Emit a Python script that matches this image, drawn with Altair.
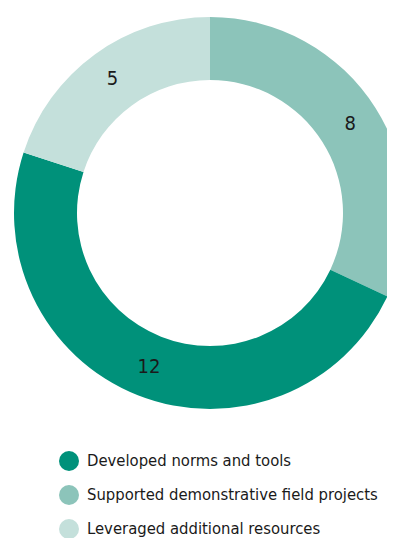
import altair as alt
import pandas as pd

categories = ["Supported demonstrative field projects", "Developed norms and tools", "Leveraged additional resources"]
values = [8, 12, 5]
legend_order = ["Developed norms and tools", "Supported demonstrative field projects", "Leveraged additional resources"]
colors = ["#00917a", "#8cc4ba", "#c4e0db"]

df = pd.DataFrame({"category": categories, "value": values, "order": [0, 1, 2]})

FONT = "DejaVu Sans Condensed"

base = alt.Chart(df).encode(
    theta=alt.Theta("value:Q", stack=True),
    order=alt.Order("order:Q"),
)

arc = base.mark_arc(outerRadius=196, innerRadius=133, x=202, y=205).encode(
    color=alt.Color(
        "category:N",
        scale=alt.Scale(domain=legend_order, range=colors),
        sort=legend_order,
        legend=alt.Legend(
            title=None,
            orient="none",
            legendX=51,
            legendY=443,
            symbolType="circle",
            symbolSize=400,
            symbolStrokeWidth=0,
            labelFont=FONT,
            labelFontSize=16.5,
            labelColor="#1a1a1a",
            labelLimit=0,
            rowPadding=14,
            labelOffset=8,
        ),
    )
)

text = base.mark_text(radius=166, x=202, y=205, font=FONT, fontSize=20, color="#1a1a1a").encode(
    text="value:Q"
)

chart = (arc + text).properties(
    width=379, height=530, padding=0,
    autosize=alt.AutoSizeParams(type="none"),
).configure_view(stroke=None)

chart.save("out.html", embed_options={"renderer": "svg", "actions": False})
